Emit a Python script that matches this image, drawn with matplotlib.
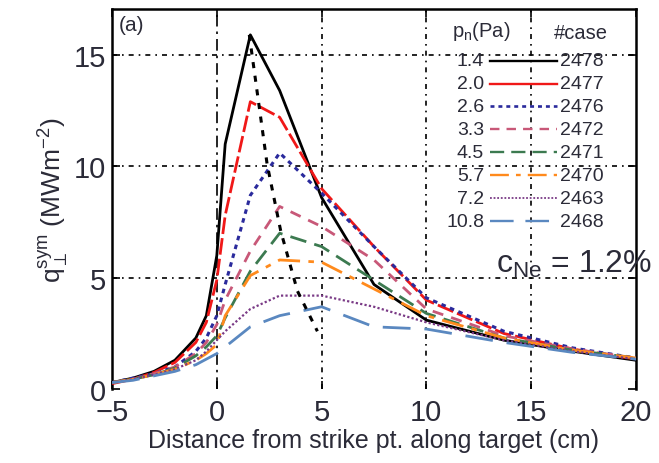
import matplotlib
matplotlib.use("Agg")
import matplotlib.pyplot as plt

plt.rcParams["font.family"] = ["Liberation Sans", "DejaVu Sans"]
plt.rcParams["mathtext.fontset"] = "custom"
plt.rcParams["mathtext.rm"] = "Liberation Sans"
plt.rcParams["mathtext.it"] = "Liberation Sans"
plt.rcParams["mathtext.bf"] = "Liberation Sans:bold"

TXT = "#2b2b38"

# distance from strike point (cm)
x = [-5, -4, -3, -2, -1, -0.5, 0, 0.4, 1.6, 3.0, 5.0, 7.5, 10, 13.7, 17, 20]

# heat flux q_perp^sym (MW m^-2) per neutral pressure case
q_1p4 = [0.3, 0.5, 0.8, 1.3, 2.3, 3.3, 6.0, 11.0, 15.9, 13.4, 8.6, 4.7, 3.1, 2.2, 1.7, 1.3]
q_2p0 = [0.25, 0.45, 0.75, 1.2, 2.1, 3.0, 4.9, 7.8, 12.9, 12.2, 9.0, 6.4, 4.0, 2.5, 1.8, 1.35]
q_2p6 = [0.3, 0.5, 0.7, 1.0, 1.7, 2.3, 3.3, 4.7, 8.7, 10.6, 8.8, 6.4, 4.1, 2.6, 1.85, 1.4]
q_3p3 = [0.3, 0.45, 0.7, 1.0, 1.6, 2.1, 2.9, 4.0, 6.2, 8.2, 7.3, 5.8, 3.6, 2.4, 1.8, 1.4]
q_4p5 = [0.3, 0.45, 0.65, 0.95, 1.5, 1.9, 2.4, 3.2, 5.3, 7.0, 6.4, 4.9, 3.4, 2.3, 1.75, 1.4]
q_5p7 = [0.3, 0.45, 0.65, 0.9, 1.3, 1.6, 2.0, 3.3, 5.1, 5.8, 5.7, 4.5, 3.3, 2.3, 1.75, 1.4]
q_7p2 = [0.3, 0.45, 0.65, 0.9, 1.3, 1.7, 2.2, 2.6, 3.6, 4.2, 4.2, 3.7, 3.0, 2.2, 1.7, 1.35]
q_10p8 = [0.3, 0.4, 0.6, 0.8, 1.1, 1.35, 1.6, 1.9, 2.8, 3.3, 3.7, 2.8, 2.7, 2.1, 1.65, 1.35]

# peak trend line
peak_x = [1.55, 2.4, 3.05, 3.85, 4.8]
peak_y = [15.9, 10.1, 7.1, 4.4, 2.6]

pressures = ["1.4", "2.0", "2.6", "3.3", "4.5", "5.7", "7.2", "10.8"]
cases = ["2478", "2477", "2476", "2472", "2471", "2470", "2463", "2468"]
series = [q_1p4, q_2p0, q_2p6, q_3p3, q_4p5, q_5p7, q_7p2, q_10p8]

colors = ["#000000", "#f01818", "#2a2a9c", "#c85878", "#3c7a50",
          "#ff8a1c", "#7a3a86", "#5a88c0"]
styles = ["-", (0, (6, 1.5)), (0, (1.5, 1.5)), (0, (4, 3)), (0, (6, 3)),
          (0, (8, 3, 2, 3)), (0, (1, 1)), (0, (10, 5))]
widths = [2.0, 2.0, 2.2, 2.0, 2.0, 2.0, 1.6, 2.0]

fig = plt.figure(figsize=(6.59, 4.64), dpi=100)
ax = fig.add_axes([0.170, 0.159, 0.795, 0.819])

# grid
for gx in [0, 5, 10, 15]:
    gls = (0, (7, 3, 1.5, 3)) if gx == 0 else (0, (3, 3, 1, 3))
    ax.axvline(gx, color="black", lw=1.2, ls=gls, zorder=1)
for gy in [5, 10, 15]:
    ax.axhline(gy, color="black", lw=1.2, ls=(0, (3, 3, 1, 3)), zorder=1)

for ys, c, ls, lw in zip(series, colors, styles, widths):
    ax.plot(x, ys, color=c, ls=ls, lw=lw, zorder=3)

ax.plot(peak_x, peak_y, color="black", ls=(0, (2, 2.5)), lw=2.2, zorder=4)

ax.set_xlim(-5, 20)
ax.set_ylim(0, 17.05)
ax.set_xticks([-5, 0, 5, 10, 15, 20])
ax.set_yticks([0, 5, 10, 15])
ax.set_xticklabels(["\u22125", "0", "5", "10", "15", "20"])
ax.tick_params(direction="in", length=6, width=1.2, labelsize=21,
               colors="black", labelcolor=TXT, top=True, right=True)
ax.tick_params(axis="x", pad=6)
ax.tick_params(axis="y", pad=4)
for s in ["left", "right", "top"]:
    ax.spines[s].set_linewidth(1.8)
ax.spines["bottom"].set_visible(False)

ax.set_xlabel("Distance from strike pt. along target (cm)", fontsize=18,
              color=TXT, labelpad=2)
ax.set_ylabel(r"$\mathrm{q}_{\perp}^{\mathrm{sym}}$ (MWm$^{-2}$)", fontsize=19,
              color=TXT, labelpad=2)

ax.text(0.012, 0.985, "(a)", transform=ax.transAxes, fontsize=15,
        color=TXT, ha="left", va="top")

# custom legend
ax.text(0.705, 0.915, r"p$_\mathrm{n}$(Pa)", transform=ax.transAxes,
        fontsize=14.5, color=TXT, ha="center", va="bottom")
ax.text(0.895, 0.915, "#case", transform=ax.transAxes, fontsize=14.5,
        color=TXT, ha="center", va="bottom")
row0, step = 0.865, 0.0605
for i, (p, cs) in enumerate(zip(pressures, cases)):
    yy = row0 - i * step
    ax.text(0.710, yy, p, transform=ax.transAxes, fontsize=14,
            color=TXT, ha="right", va="center")
    ax.plot([0.722, 0.850], [yy, yy], transform=ax.transAxes,
            color=colors[i], ls=styles[i] if i != 1 else "-", lw=widths[i] - 0.3,
            zorder=5)
    ax.text(0.855, yy, cs, transform=ax.transAxes, fontsize=14,
            color=TXT, ha="left", va="center")

ax.text(0.882, 0.33, r"c$_{\mathrm{Ne}}$ = 1.2%", transform=ax.transAxes,
        fontsize=23, color=TXT, ha="center", va="center")

fig.savefig("out.png", dpi=100)
